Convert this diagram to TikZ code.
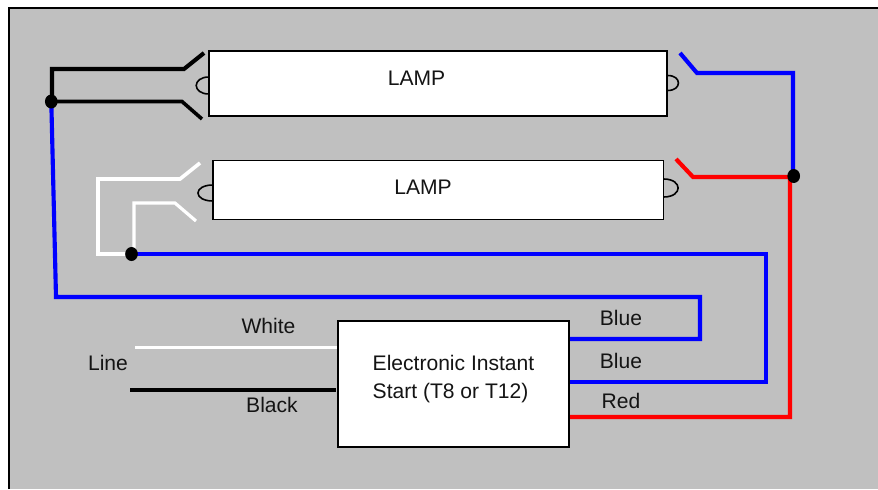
\documentclass[tikz,border=0pt]{standalone}
\usepackage{fontspec}
\setmainfont{Liberation Sans}
\usetikzlibrary{shapes.geometric}
\definecolor{panel}{HTML}{C0C0C0}
\definecolor{wblue}{HTML}{0000FF}
\definecolor{wred}{HTML}{FF0000}
\pgfdeclarelayer{panellayer}
\pgfdeclarelayer{wirelayer}
\pgfsetlayers{panellayer,wirelayer,main}
\tikzset{
  px/.style={x=0.75pt,y=-0.75pt},
  wire/.style={line width=3.1pt,line join=miter,line cap=butt},
  whitewire/.style={white,line width=2.7pt,line join=miter,line cap=butt},
  lamp/.style={draw=black,fill=white,line width=1.3pt,inner sep=0pt},
  pin/.style={draw=black,line width=1.2pt},
  junction/.style={ellipse,fill=black,inner sep=0pt,minimum width=9.5pt,minimum height=10.5pt},
  lbl/.style={inner sep=0pt,font=\fontsize{15.8}{21}\selectfont,text=black!92},
}
\begin{document}
\begin{tikzpicture}[px]
\useasboundingbox (0,0) rectangle (878,489);
\begin{pgfonlayer}{panellayer}
\fill[white] (0,0) rectangle (878,489);
\fill[panel] (9,8) rectangle (878,489);
\draw[black,line width=1.1pt] (9,489) -- (9,8) -- (878,8);
\end{pgfonlayer}
% nodes
\node[lamp,minimum width=343.5pt,minimum height=48.75pt] (lamp1) at (438.3,83.5) {};
\node[lamp,minimum width=338pt,minimum height=44.25pt] (lamp2) at (438.2,190) {};
\node[lamp,minimum width=173.25pt,minimum height=94.5pt] (ballast) at (453.5,384) {};
\node[junction] (j1) at (51.3,101.5) {};
\node[junction] (j2) at (131.5,254) {};
\node[junction] (j3) at (793.7,176) {};
% free ends
\coordinate (a1) at (204,53);
\coordinate (a2) at (202,119);
\coordinate (a3) at (680,53);
\coordinate (b1) at (200,163);
\coordinate (b2) at (196,221);
\coordinate (b3) at (676,159);
\coordinate (w1) at (135,347.5);
\coordinate (k1) at (130,390);
% wires
\begin{pgfonlayer}{wirelayer}
\draw[wire,black] (a1) -- (184,69) -- (52,69) -- (52,0 |- j1.center);
\draw[wire,black,line width=2.7pt] (j1.center) -- (182,0 |- j1.center) -- (a2);
\draw[wire,wblue] (j1.center) -- (56,297) -- (700,297) -- (700,339) -- (ballast.east |- 0,339);
\draw[whitewire] (b1) -- (180,179) -- (98,179) -- (98,254) -- (j2.center);
\draw[whitewire,line width=2.4pt] (134,0 |- j2.center) -- (134,203) -- (175,203) -- (b2);
\draw[wire,wblue] (j2.center) -- (766,254) -- (766,382) -- (ballast.east |- 0,382);
\draw[wire,wblue] (a3) -- (697,73) -- (793,73) -- (793,0 |- j3.center);
\draw[wire,wred] (b3) -- (693,177) -- (790,177) -- (790,417) -- (ballast.east |- 0,417);
\draw[whitewire] (w1) -- (ballast.west |- 0,347.5);
\draw[wire,black] (k1) -- (336,390);
\end{pgfonlayer}
% lamp pins
\draw[pin] (209,77) .. controls (192,77) and (192,94) .. (209,94);
\draw[pin] (667.7,75.5) .. controls (682,75.5) and (682,90.5) .. (667.7,90.5);
\draw[pin] (213,185) .. controls (193,185) and (193,201) .. (213,201);
\draw[pin] (663.5,179) .. controls (683,179) and (683,197) .. (663.5,197);
% labels
\node[lbl] (t1) at (416.5,78) {LAMP};
\node[lbl] (t2) at (423,187) {LAMP};
\node[lbl,align=left] (t3) at (453.5,379) {Electronic Instant\\Start (T8 or T12)};
\node[lbl] (t4) at (268.5,326) {White};
\node[lbl] (t5) at (272,405) {Black};
\node[lbl] (t6) at (108,363) {Line};
\node[lbl] (t7) at (621,318) {Blue};
\node[lbl] (t8) at (621,361) {Blue};
\node[lbl] (t9) at (621,401) {Red};
\end{tikzpicture}
\end{document}
